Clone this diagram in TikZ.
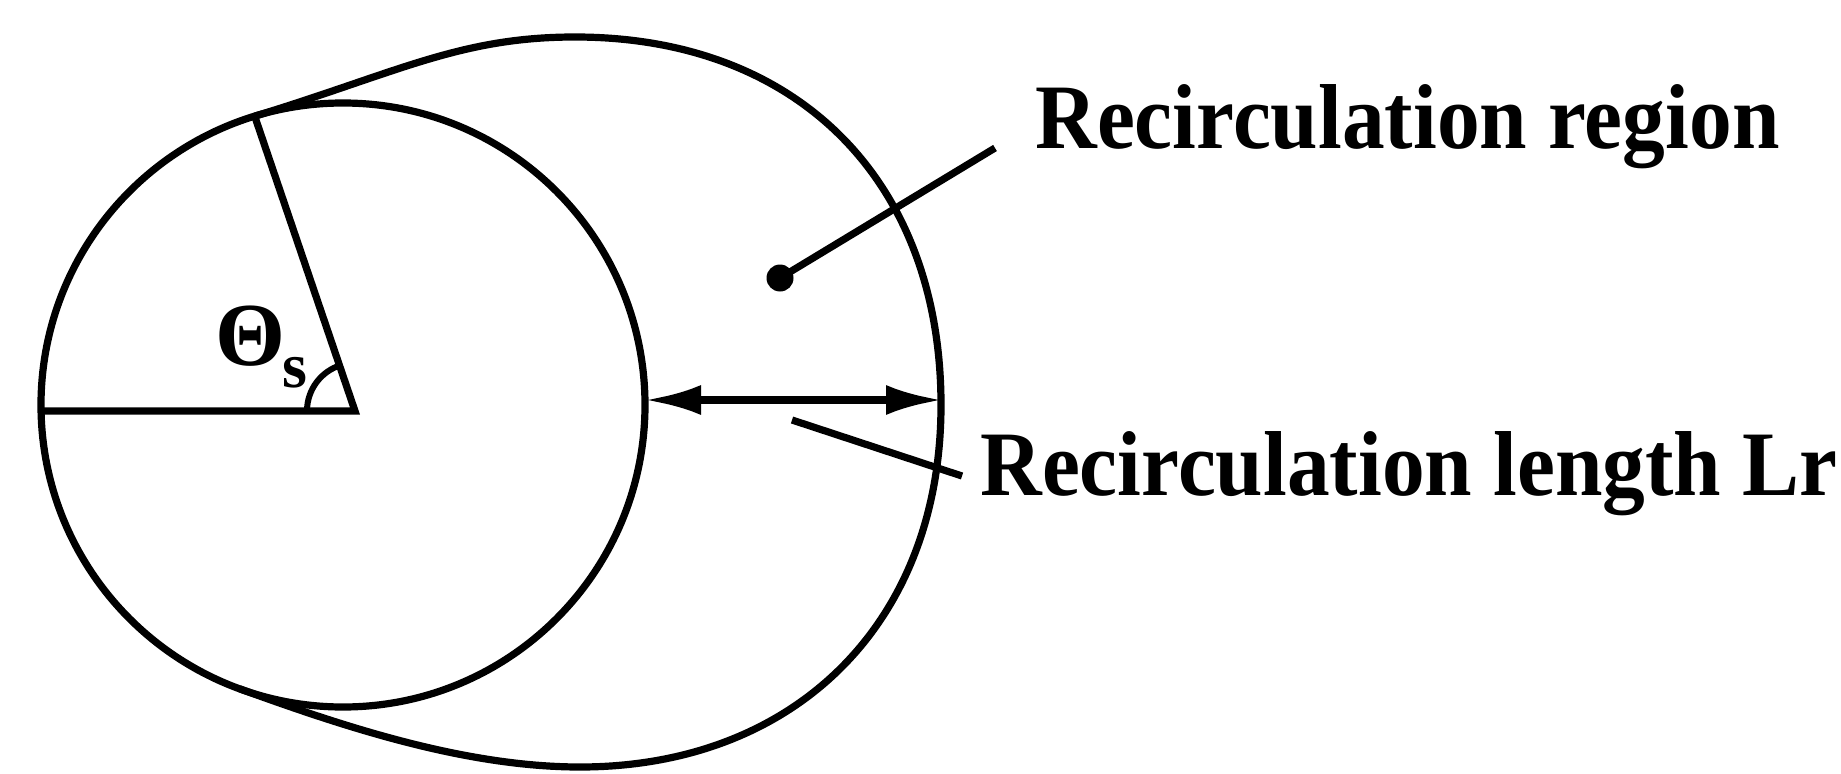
\documentclass[tikz,border=0pt]{standalone}
\usepackage{fontspec}
\setmainfont{Liberation Serif}
\usetikzlibrary{arrows.meta,calc}
\begin{document}
\begin{tikzpicture}[x=0.5pt,y=0.5pt,
  outline/.style={line width=3.6pt},
  leaderline/.style={line width=3.6pt},
  txt/.style={inner sep=0pt, anchor=base west, font=\fontsize{42.7}{50}\selectfont\bfseries},
  dimarrow/.style={line width=3.6pt, {Latex[length=28pt,width=15pt]}-{Latex[length=28pt,width=15pt]}}
]
\useasboundingbox (0,0) rectangle (1841,773);
\coordinate (O) at (343,368);
\coordinate (V) at (355,362);
\coordinate (L) at (40,362);
\coordinate (P1) at ($(O)+(107:151pt)$);
\coordinate (J) at ($(O)+(250:151pt)$);
\coordinate (P1c) at ($(P1)+(17:75pt)$);
\coordinate (Jc) at ($(J)+(340:55pt)$);
\coordinate (T) at (575,736);
\coordinate (R) at (941,368);
\coordinate (B) at (580,6);
% circle
\draw[outline] (O) circle (151pt);
% outer recirculation boundary
\draw[outline] (P1) .. controls (P1c) and (460,736) .. (T)
  .. controls (800,736) and (941,590) .. (R)
  .. controls (941,150) and (795,6) .. (B)
  .. controls (465,6) and (Jc) .. (J);
% angle lines
\draw[outline, line join=miter] (L) -- (V) -- (P1);
\draw[line width=3pt] ([shift={(180:24pt)}]V) arc[start angle=180, end angle=107, radius=24pt];
\node[font=\fontsize{45}{45}\selectfont\bfseries, inner sep=0pt] (theta) at (250,437) {Θ};
\node[font=\fontsize{32}{32}\selectfont\bfseries, inner sep=0pt] (sub) at (295,400) {s};
% recirculation length arrow
\coordinate (A1) at (645,373);
\coordinate (A2) at (942,373);
\draw[dimarrow] (A1) -- (A2);
% leaders
\node[circle, fill, inner sep=0pt, minimum size=13.5pt] (dot) at (780,495) {};
\coordinate (E1) at (995,625);
\draw[leaderline] (dot.center) -- (E1);
\coordinate (F1) at (792,353);
\coordinate (F2) at (962,297);
\draw[leaderline] (F1) -- (F2);
% labels
\node[txt] (t1) at (1035,625) {\scalebox{1}[1.08]{Recirculation region}};
\node[txt] (t2) at (980,278) {\scalebox{1}[1.08]{Recirculation length Lr}};
\end{tikzpicture}
\end{document}
